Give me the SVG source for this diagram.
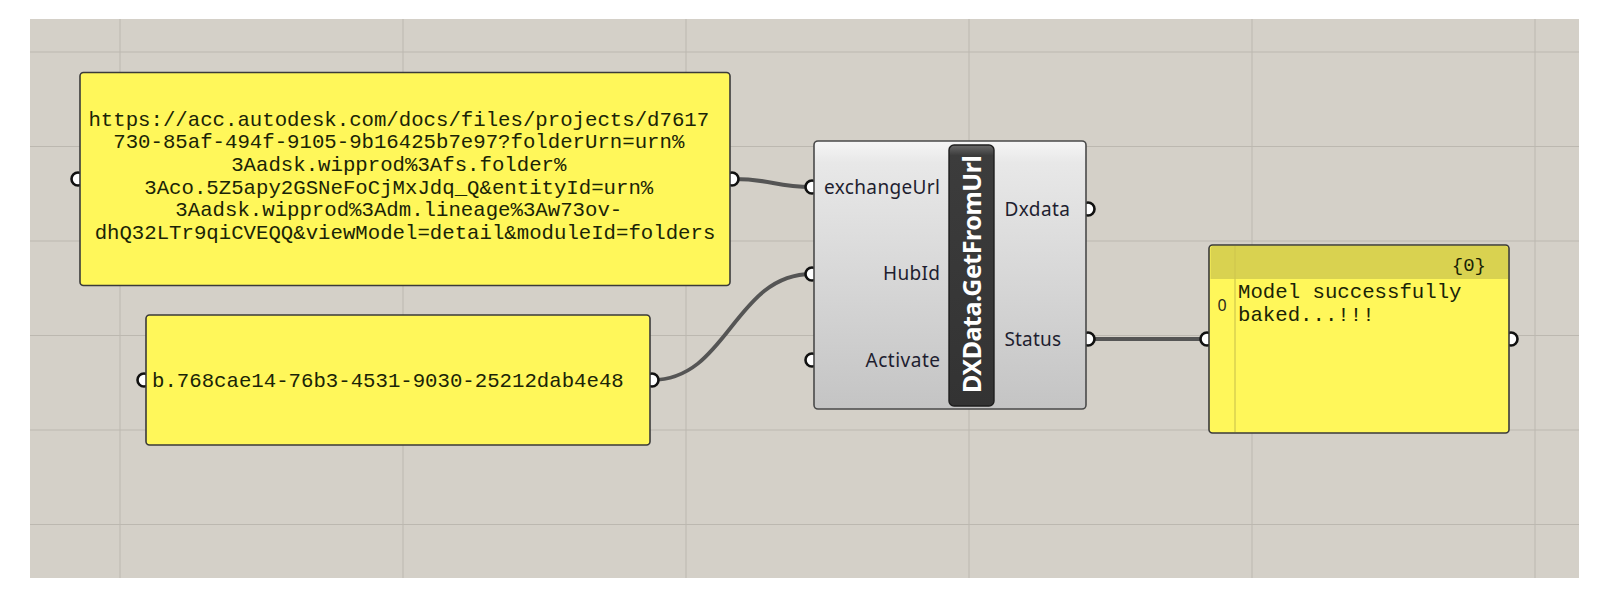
<svg xmlns="http://www.w3.org/2000/svg" width="1602" height="598" viewBox="0 0 1602 598">
<defs>
<style>
.grid{stroke:#bcb8b0;stroke-width:1}
.panel{fill:#fff75a;stroke:#3a3a3a;stroke-width:1.6}
.ptxt{font-family:"Liberation Mono","Courier New",monospace;font-size:20.7px;fill:#1a2406}
.grip{fill:#ffffff;stroke:#111111;stroke-width:2.6}
.wire{fill:none;stroke:#555555;stroke-width:4.2;stroke-linecap:round}
.lbl{font-family:"Noto Sans","Open Sans","Liberation Sans",sans-serif;font-size:19px;fill:#1e1e30}
</style>
<linearGradient id="body" x1="0" y1="0" x2="0" y2="1">
<stop offset="0" stop-color="#f6f6f6"/>
<stop offset="0.08" stop-color="#e8e8e8"/>
<stop offset="1" stop-color="#c4c4c4"/>
</linearGradient>
<linearGradient id="strip" x1="0" y1="0" x2="0" y2="1">
<stop offset="0" stop-color="#6a6a6a"/>
<stop offset="0.04" stop-color="#3c3c3c"/>
<stop offset="1" stop-color="#333333"/>
</linearGradient>
</defs>
<rect x="0" y="0" width="1602" height="598" fill="#ffffff"/>
<rect x="30" y="19" width="1549" height="559" fill="#d4d0c8"/>
<g id="grid">
<line class="grid" x1="120" y1="19" x2="120" y2="578"/>
<line class="grid" x1="403" y1="19" x2="403" y2="578"/>
<line class="grid" x1="686" y1="19" x2="686" y2="578"/>
<line class="grid" x1="969" y1="19" x2="969" y2="578"/>
<line class="grid" x1="1252" y1="19" x2="1252" y2="578"/>
<line class="grid" x1="1535" y1="19" x2="1535" y2="578"/>
<line class="grid" x1="30" y1="52" x2="1579" y2="52"/>
<line class="grid" x1="30" y1="146.5" x2="1579" y2="146.5"/>
<line class="grid" x1="30" y1="241" x2="1579" y2="241"/>
<line class="grid" x1="30" y1="335.5" x2="1579" y2="335.5"/>
<line class="grid" x1="30" y1="430" x2="1579" y2="430"/>
<line class="grid" x1="30" y1="524.5" x2="1579" y2="524.5"/>
</g>
<g id="connectors">
<path class="wire" d="M733,179 C772,179 774,187 812,187"/>
<path class="wire" d="M652,380 C728,380 734,274 812,274" style="stroke-width:3.8"/>
<path class="wire" d="M1088,339 L1207,339"/>
</g>
<g id="panel-url">
<circle class="grip" cx="78" cy="179" r="6.5"/>
<circle class="grip" cx="732" cy="179" r="6.5"/>
<rect class="panel" x="80" y="72.5" width="650" height="213" rx="3.5"/>
<text class="ptxt" text-anchor="middle">
<tspan x="405" y="125.5">https://acc.autodesk.com/docs/files/projects/d7617</tspan>
<tspan x="405" y="148.2">730-85af-494f-9105-9b16425b7e97?folderUrn=urn%</tspan>
<tspan x="405" y="170.9">3Aadsk.wipprod%3Afs.folder%</tspan>
<tspan x="405" y="193.6">3Aco.5Z5apy2GSNeFoCjMxJdq_Q&amp;entityId=urn%</tspan>
<tspan x="405" y="216.3">3Aadsk.wipprod%3Adm.lineage%3Aw73ov-</tspan>
<tspan x="405" y="239">dhQ32LTr9qiCVEQQ&amp;viewModel=detail&amp;moduleId=folders</tspan>
</text>
</g>
<g id="panel-hub">
<circle class="grip" cx="144" cy="380" r="6.5"/>
<circle class="grip" cx="652" cy="380" r="6.5"/>
<rect class="panel" x="146" y="315" width="504" height="130" rx="3.5"/>
<text class="ptxt" x="152" y="387">b.768cae14-76b3-4531-9030-25212dab4e48</text>
</g>
<g id="component">
<circle class="grip" cx="812" cy="187" r="6.5"/>
<circle class="grip" cx="812" cy="274" r="6.5"/>
<circle class="grip" cx="812" cy="360" r="6.5"/>
<circle class="grip" cx="1088" cy="209" r="6.5"/>
<circle class="grip" cx="1088" cy="339" r="6.5"/>
<rect x="814" y="141" width="272" height="268" rx="4" fill="url(#body)" stroke="#4a4a4a" stroke-width="1.6"/>
<rect x="949" y="145" width="45" height="261" rx="5" fill="url(#strip)" stroke="#1e1e1e" stroke-width="1.4"/>
<text transform="translate(980.5,274) rotate(-90)" x="0" y="0" text-anchor="middle" textLength="238" lengthAdjust="spacing" style="font-family:'Noto Sans','Open Sans','Liberation Sans',sans-serif;font-weight:bold;font-size:25px;fill:#ffffff">DXData.GetFromUrl</text>
<text class="lbl" x="940" y="193.5" text-anchor="end" textLength="116">exchangeUrl</text>
<text class="lbl" x="940" y="280" text-anchor="end" textLength="57">HubId</text>
<text class="lbl" x="940" y="366.5" text-anchor="end" textLength="74.5">Activate</text>
<text class="lbl" x="1004.5" y="215.5" textLength="65.5">Dxdata</text>
<text class="lbl" x="1004.5" y="345.5" textLength="56.5">Status</text>
</g>
<g id="panel-out">
<circle class="grip" cx="1207" cy="339" r="6.5"/>
<circle class="grip" cx="1511" cy="339" r="6.5"/>
<rect class="panel" x="1209" y="245" width="300" height="188" rx="3.5"/>
<path d="M1210.5,248.5 Q1210.5,246 1213,246 L1505,246 Q1508,246 1508,248.5 L1508,279 L1210.5,279 Z" fill="#d9d250"/>
<line x1="1235" y1="246" x2="1235" y2="432" stroke="#cfc74e" stroke-width="1.2"/>
<text class="ptxt" x="1486" y="271" text-anchor="end" style="font-size:19px">{0}</text>
<text x="1222" y="311" text-anchor="middle" style="font-family:'Noto Sans','Liberation Sans',sans-serif;font-size:16px;fill:#2a2a1a">0</text>
<text class="ptxt"><tspan x="1238" y="298">Model successfully</tspan><tspan x="1238" y="320.5">baked...!!!</tspan></text>
</g>
</svg>
